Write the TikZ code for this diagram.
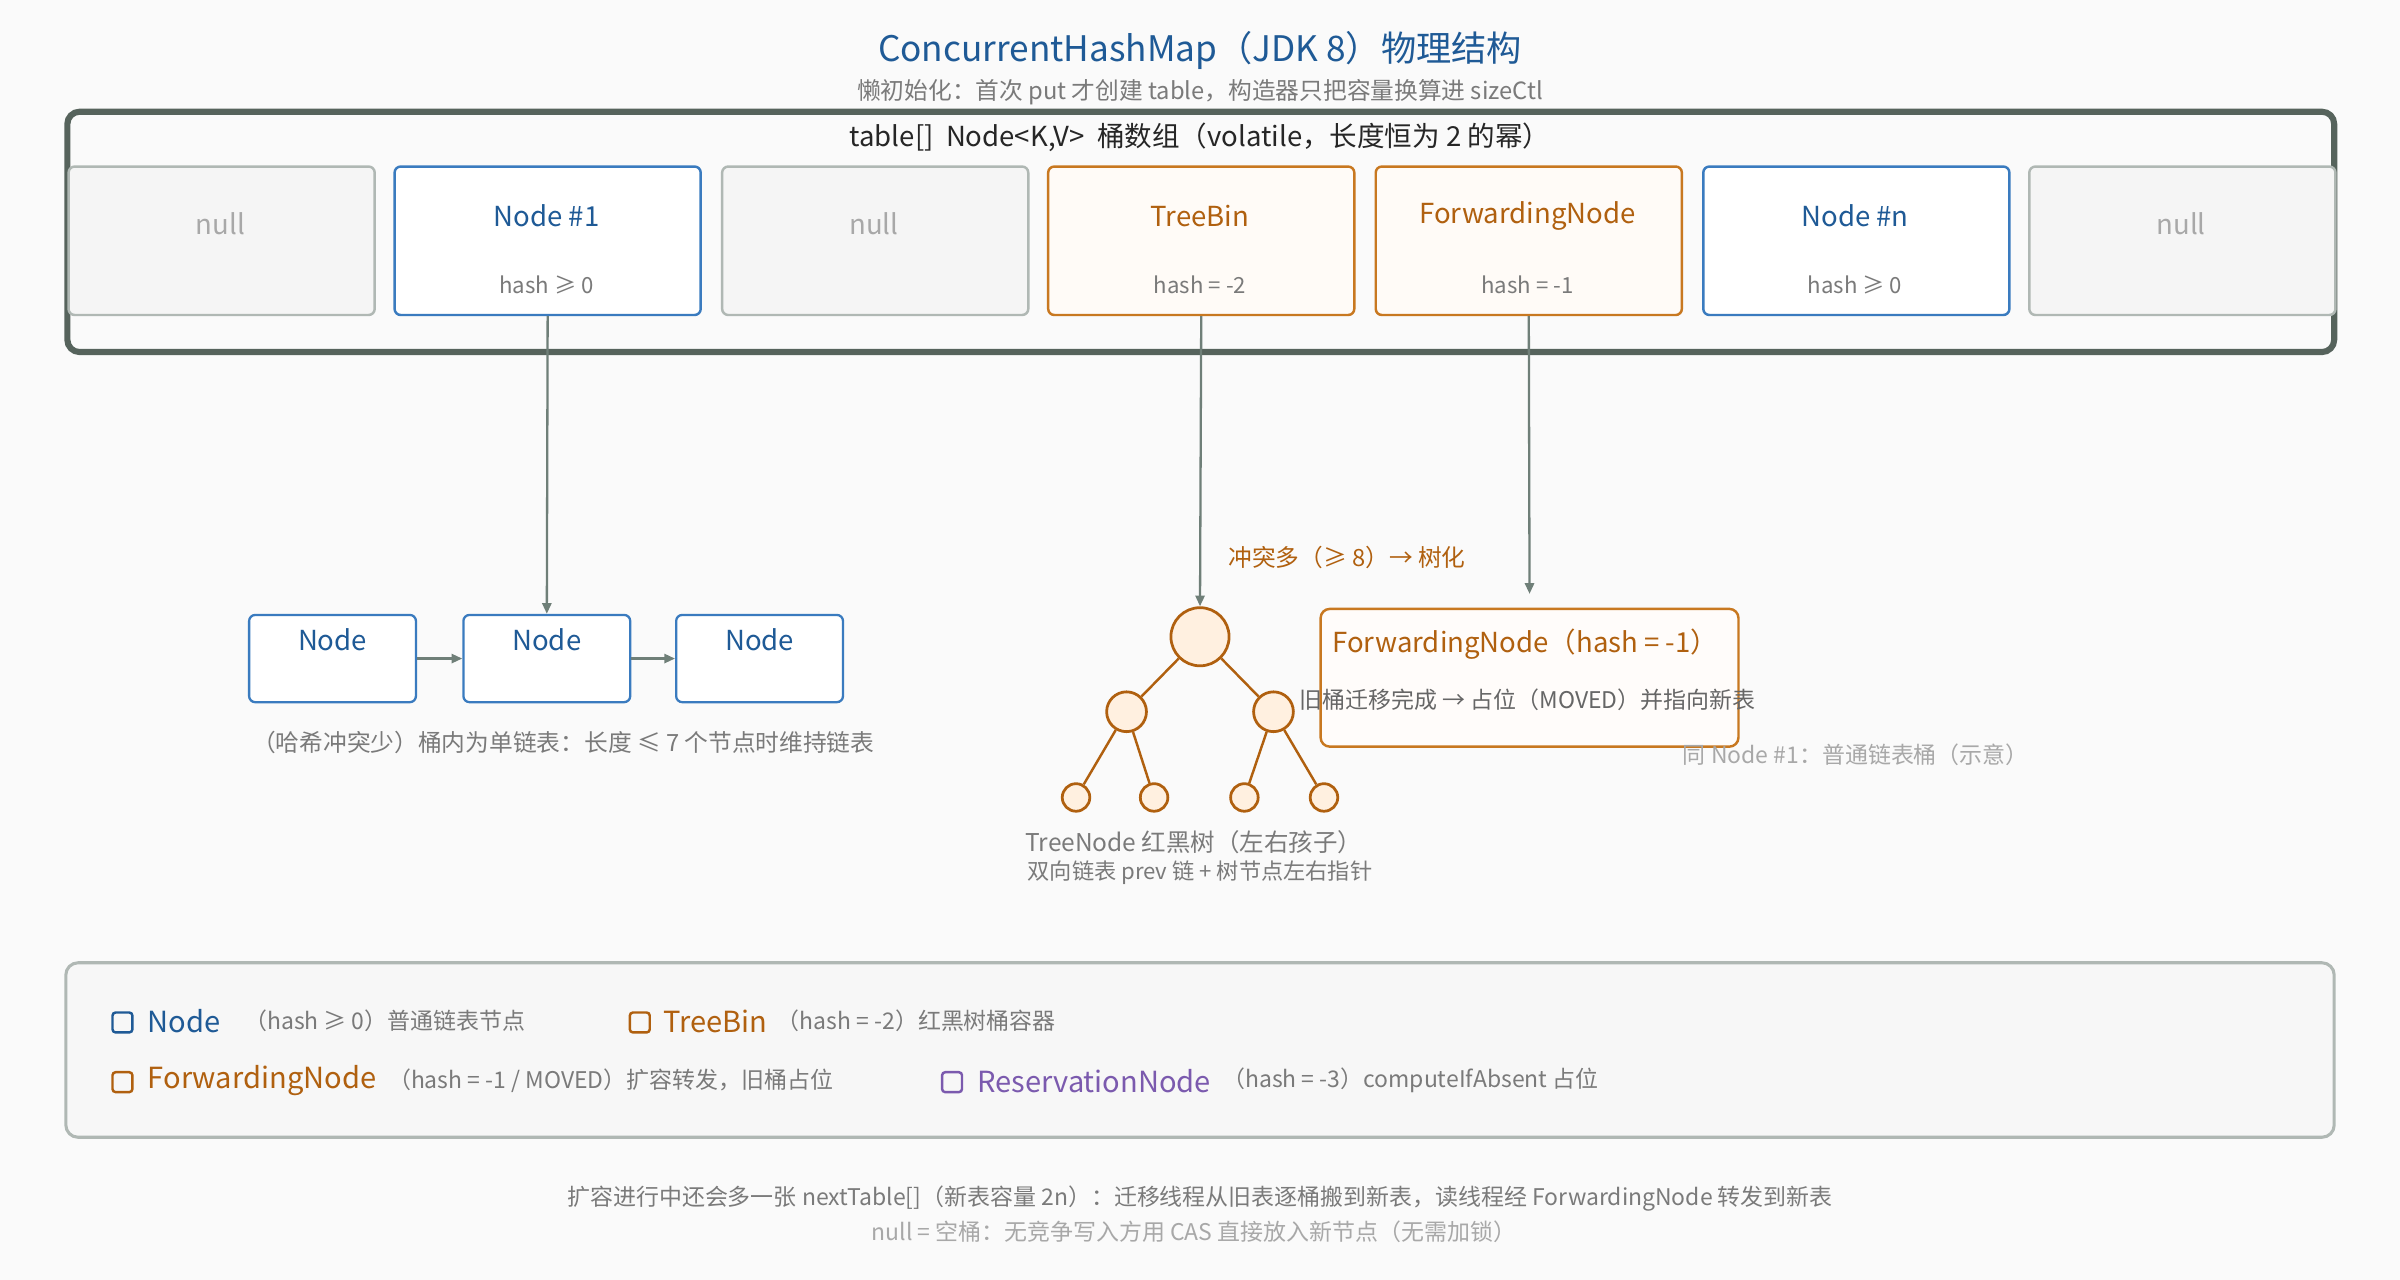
\documentclass[tikz,border=0pt]{standalone}
\usepackage{fontspec}
\setmainfont{Noto Sans CJK SC}
\usetikzlibrary{arrows.meta}
\definecolor{bg}{HTML}{FAFAFA}
\definecolor{tblue}{HTML}{1F5A96}
\definecolor{bblue}{HTML}{3A7BBF}
\definecolor{torange}{HTML}{B0600F}
\definecolor{borange}{HTML}{C87820}
\definecolor{gframe}{HTML}{56635C}
\definecolor{gline}{HTML}{B0B8B4}
\definecolor{arr}{HTML}{6F7F78}
\definecolor{txt}{HTML}{7A7A7A}
\definecolor{ltxt}{HTML}{A8A8A8}
\definecolor{purp}{HTML}{7B5AAE}
\newcommand{\fs}[1]{\fontsize{#1}{#1}\selectfont}
\begin{document}
\begin{tikzpicture}[x=1pt,y=-1pt,
  cell/.style={draw,line width=1.6pt,rounded corners=4pt,minimum width=200pt,minimum height=97pt,anchor=north west,inner sep=0},
  nullc/.style={cell,draw=gline,fill=gray!8},
  nodec/.style={cell,draw=bblue,fill=white},
  orc/.style={cell,draw=borange,fill=orange!3},
  ln/.style={draw=bblue,line width=1.5pt,rounded corners=4pt,fill=white,minimum width=109pt,minimum height=57pt,anchor=north west},
  tn/.style={circle,draw=torange,line width=1.8pt,fill=orange!12,inner sep=0},
  ar/.style={draw=arr,line width=1.5pt,-{Triangle[length=7pt,width=6pt]}},
  te/.style={draw=torange,line width=1.6pt},
  sq/.style={draw,line width=1.6pt,rounded corners=2pt,minimum size=13pt,inner sep=0}]
\path[fill=bg] (0,0) rectangle (1568,836);
\useasboundingbox (0,0) rectangle (1568,836);
\node[text=tblue] (title) at (784,33) {\fs{23}ConcurrentHashMap（JDK 8）物理结构};
\node[text=txt] (sub) at (784,60) {\fs{15.5}懒初始化：首次 put 才创建 table，构造器只把容量换算进 sizeCtl};
\draw[gframe,line width=4pt,rounded corners=8pt,fill=bg] (44,73) rectangle (1525,230);
\node[text=black!85] (hdr) at (784,90) {\fs{18}table[]\ \ Node<K,V>\ \ 桶数组（volatile，长度恒为 2 的幂）};
\foreach \x/\st/\nm/\t/\h/\c in {44/nullc/c1/null//ltxt,257/nodec/c2/Node \#1/hash ≥ 0/tblue,471/nullc/c3/null//ltxt,684/orc/c4/TreeBin/hash = -2/torange,898/orc/c5/ForwardingNode/hash = -1/torange,1112/nodec/c6/Node \#n/hash ≥ 0/tblue,1325/nullc/c7/null//ltxt}{
  \node[\st] (\nm) at (\x,108) {};
  \node[text=\c] at (\x+100,\ifx\h\empty 146\else 141\fi) {\fs{18}\t};
  \node[text=txt] at (\x+100,186) {\fs{14.5}\h};
}
% linked list
\node[ln] (l1) at (162,401) {}; \node[ln] (l2) at (302,401) {}; \node[ln] (l3) at (441,401) {};
\foreach \n in {l1,l2,l3}{\node[text=tblue] at ([yshift=-17pt]\n.north) {\fs{18}Node};}
\draw[ar] (c2.south) -- (l2.north);
\draw[ar] (l1.east) -- (l2.west);
\draw[ar] (l2.east) -- (l3.west);
\node[text=txt] (cap1) at (368,485) {\fs{15.5}（哈希冲突少）桶内为单链表：长度 ≤ 7 个节点时维持链表};
% tree
\node[tn,minimum size=38pt] (r) at (784,416) {};
\node[tn,minimum size=26pt] (a) at (736,465) {};
\node[tn,minimum size=26pt] (b) at (832,465) {};
\node[tn,minimum size=18pt] (a1) at (703,521) {};
\node[tn,minimum size=18pt] (a2) at (754,521) {};
\node[tn,minimum size=18pt] (b1) at (813,521) {};
\node[tn,minimum size=18pt] (b2) at (865,521) {};
\draw[te] (r) -- (a); \draw[te] (r) -- (b);
\draw[te] (a) -- (a1); \draw[te] (a) -- (a2);
\draw[te] (b) -- (b1); \draw[te] (b) -- (b2);
\draw[ar] (c4.south) -- (r.north);
\node[text=torange,anchor=west] (tl) at (799,364) {\fs{15.5}冲突多（≥ 8）→ 树化};
\node[text=txt] (cap2) at (780,550) {\fs{16}TreeNode 红黑树（左右孩子）};
\node[text=txt] (cap3) at (784,570) {\fs{14.5}双向链表 prev 链 + 树节点左右指针};
% forwarding
\node[draw=borange,line width=1.6pt,rounded corners=6pt,fill=orange!2,minimum width=273pt,minimum height=90pt,anchor=north west] (fn) at (862,397) {};
\draw[ar] (c5.south) -- ([yshift=9pt]fn.north);
\node[text=torange,anchor=west] (fnt) at (867,421) {\fs{18}ForwardingNode（hash = -1）};
\node[text=black!60] (fnd) at (998,457) {\fs{15}旧桶迁移完成 → 占位（MOVED）并指向新表};
\node[text=ltxt,anchor=west] (same) at (1096,493) {\fs{15}同 Node \#1：普通链表桶（示意）};
% legend
\draw[gline,line width=2pt,rounded corners=8pt,fill=gray!6] (43,629) rectangle (1525,743);
\node[sq,draw=tblue] (s1) at (80,668) {};
\node[text=tblue,anchor=west] at (93,667) {\fs{19}Node};
\node[text=txt,anchor=west] at (156,667) {\fs{15}（hash ≥ 0）普通链表节点};
\node[sq,draw=torange] (s2) at (418,668) {};
\node[text=torange,anchor=west] at (430,667) {\fs{19}TreeBin};
\node[text=txt,anchor=west] at (504,667) {\fs{15}（hash = -2）红黑树桶容器};
\node[sq,draw=torange] (s3) at (80,707) {};
\node[text=torange,anchor=west] at (93,706) {\fs{19}ForwardingNode};
\node[text=txt,anchor=west] at (250,706) {\fs{15}（hash = -1 / MOVED）扩容转发，旧桶占位};
\node[sq,draw=purp] (s4) at (622,707) {};
\node[text=purp,anchor=west] at (635,706) {\fs{19}ReservationNode};
\node[text=txt,anchor=west] at (795,706) {\fs{15}（hash = -3）computeIfAbsent 占位};
\node[text=txt] (f1) at (784,783) {\fs{15}扩容进行中还会多一张 nextTable[]（新表容量 2n）：迁移线程从旧表逐桶搬到新表，读线程经 ForwardingNode 转发到新表};
\node[text=ltxt] (f2) at (780,805) {\fs{15}null = 空桶：无竞争写入方用 CAS 直接放入新节点（无需加锁）};
\end{tikzpicture}
\end{document}
